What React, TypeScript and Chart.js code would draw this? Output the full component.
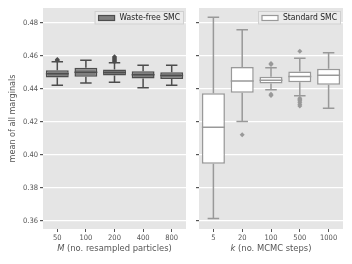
import React, { useEffect, useRef } from 'react';
import { Chart, registerables } from 'chart.js';
Chart.register(...registerables);

// ---------- data ----------
const yTicks = [0.36, 0.38, 0.40, 0.42, 0.44, 0.46, 0.48];

const wfLabels = ['50', '100', '200', '400', '800'];
const wfLo = [0.4422, 0.4436, 0.4440, 0.4406, 0.4422];
const wfQ1 = [0.4469, 0.4473, 0.4481, 0.4462, 0.4460];
const wfMed = [0.4491, 0.4501, 0.4499, 0.4485, 0.4480];
const wfQ3 = [0.4513, 0.4527, 0.4517, 0.4507, 0.4500];
const wfHi = [0.4564, 0.4573, 0.4558, 0.4543, 0.4543];
const wfOut = [[0.4572, 0.4578], [], [0.4564, 0.4570, 0.4576, 0.4582, 0.4588, 0.4594], [], []];

const stLabels = ['5', '20', '100', '500', '1000'];
const stLo = [0.3614, 0.4202, 0.4394, 0.4358, 0.4282];
const stQ1 = [0.3945, 0.4376, 0.4432, 0.4440, 0.4424];
const stMed = [0.4167, 0.4448, 0.4452, 0.4475, 0.4482];
const stQ3 = [0.4373, 0.4533, 0.4473, 0.4505, 0.4521];
const stHi = [0.4834, 0.4758, 0.4527, 0.4585, 0.4618];
const stOut = [[], [0.4121], [0.4547, 0.4553, 0.4367, 0.4360], [0.4628, 0.4343, 0.4335, 0.4327, 0.4318, 0.4306, 0.4296], []];

const FAMILY = "'DejaVu Sans Condensed', 'DejaVu Sans', sans-serif";
const TXT = '#555555';
const BG = '#e5e5e5';

type Spec = {
  labels: string[]; lo: number[]; q1: number[]; med: number[]; q3: number[]; hi: number[]; out: number[][];
  fill: string; line: string; legend: string; titleItalic: string; titleRest: string;
  yLabels: boolean; yAxisWidth: number; padRight: number; width: number;
};

function buildChart(canvas: HTMLCanvasElement, s: Spec) {
  const outPts: { x: string; y: number }[] = [];
  s.out.forEach((arr, i) => arr.forEach(v => outPts.push({ x: s.labels[i], y: v })));

  const plugin = {
    id: 'boxExtras',
    beforeDraw(chart: any) {
      const { ctx, chartArea: a } = chart;
      ctx.save();
      ctx.fillStyle = BG;
      ctx.fillRect(a.left, a.top, a.right - a.left, a.bottom - a.top);
      ctx.restore();
    },
    afterDatasetsDraw(chart: any) {
      const { ctx } = chart;
      const ys = chart.scales.y;
      const meta = chart.getDatasetMeta(0);
      ctx.save();
      ctx.strokeStyle = s.line;
      ctx.lineWidth = 1.5;
      meta.data.forEach((bar: any, i: number) => {
        const x = bar.x;
        const w = bar.width;
        const yq1 = ys.getPixelForValue(s.q1[i]);
        const yq3 = ys.getPixelForValue(s.q3[i]);
        const ylo = ys.getPixelForValue(s.lo[i]);
        const yhi = ys.getPixelForValue(s.hi[i]);
        const ym = ys.getPixelForValue(s.med[i]);
        ctx.beginPath();
        ctx.moveTo(x, yq3); ctx.lineTo(x, yhi);
        ctx.moveTo(x - w / 4, yhi); ctx.lineTo(x + w / 4, yhi);
        ctx.moveTo(x, yq1); ctx.lineTo(x, ylo);
        ctx.moveTo(x - w / 4, ylo); ctx.lineTo(x + w / 4, ylo);
        ctx.moveTo(x - w / 2, ym); ctx.lineTo(x + w / 2, ym);
        ctx.stroke();
      });
      ctx.restore();
    },
    afterDraw(chart: any) {
      const { ctx, chartArea: a } = chart;
      ctx.save();
      // x title
      const fs = 9.3;
      ctx.fillStyle = TXT;
      ctx.textBaseline = 'middle';
      ctx.textAlign = 'left';
      ctx.font = `italic ${fs}px ${FAMILY}`;
      const w1 = ctx.measureText(s.titleItalic).width;
      ctx.font = `${fs}px ${FAMILY}`;
      const w2 = ctx.measureText(s.titleRest).width;
      const x0 = (a.left + a.right) / 2 - (w1 + w2) / 2;
      const ty = 248.5;
      ctx.font = `italic ${fs}px ${FAMILY}`;
      ctx.fillText(s.titleItalic, x0, ty);
      ctx.font = `${fs}px ${FAMILY}`;
      ctx.fillText(s.titleRest, x0 + w1, ty);
      // legend
      const lfs = 8.5;
      ctx.font = `${lfs}px ${FAMILY}`;
      const tw = ctx.measureText(s.legend).width;
      const frameW = 4 + 16 + 5 + tw + 4;
      const fr = a.right - 2;
      const fl = fr - frameW;
      const ft = a.top + 3;
      const fh = 13.5;
      ctx.fillStyle = '#ebebeb';
      ctx.strokeStyle = '#d0d0d0';
      ctx.lineWidth = 1;
      ctx.fillRect(fl, ft, frameW, fh);
      ctx.strokeRect(fl + 0.5, ft + 0.5, frameW - 1, fh - 1);
      ctx.fillStyle = s.fill;
      ctx.strokeStyle = s.line;
      ctx.lineWidth = 1.2;
      ctx.fillRect(fl + 4, ft + 4.5, 16, 5);
      ctx.strokeRect(fl + 4, ft + 4.5, 16, 5);
      ctx.fillStyle = '#222222';
      ctx.textBaseline = 'middle';
      ctx.fillText(s.legend, fl + 25, ft + fh / 2 + 0.5);
      ctx.restore();
    },
  };

  return new Chart(canvas, {
    type: 'bar',
    data: {
      labels: s.labels,
      datasets: [
        {
          type: 'bar',
          data: s.labels.map((_, i) => [s.q1[i], s.q3[i]]) as any,
          backgroundColor: s.fill,
          borderColor: s.line,
          borderWidth: 1.5,
          borderSkipped: false,
          barPercentage: 0.8,
          categoryPercentage: 1,
        },
        {
          type: 'line',
          data: outPts as any,
          showLine: false,
          pointStyle: 'rectRot',
          pointRadius: 2.5,
          pointBackgroundColor: s.line,
          pointBorderColor: s.line,
          pointBorderWidth: 0,
        } as any,
      ],
    },
    options: {
      responsive: false,
      animation: false,
      devicePixelRatio: 1,
      events: [],
      layout: { padding: { top: 8, left: 0, right: s.padRight, bottom: 11 } },
      plugins: { legend: { display: false }, tooltip: { enabled: false } },
      scales: {
        x: {
          type: 'category',
          offset: true,
          border: { display: false },
          grid: { display: true, drawOnChartArea: false, drawTicks: true, tickLength: 3, tickColor: TXT, offset: false },
          ticks: { color: TXT, font: { size: 7.5, family: FAMILY }, padding: 2, maxRotation: 0, autoSkip: false },
          afterFit: (sc: any) => { sc.height = 24; },
        },
        y: {
          type: 'linear',
          min: 0.355,
          max: 0.489,
          border: { display: false },
          grid: { color: '#ffffff', lineWidth: 1.2, drawTicks: true, tickLength: 3, tickColor: TXT },
          afterBuildTicks: (sc: any) => { sc.ticks = yTicks.map(v => ({ value: v })); },
          ticks: {
            color: TXT,
            font: { size: 7.5, family: FAMILY },
            padding: 2,
            callback: (v: any) => (s.yLabels ? Number(v).toFixed(2) : ''),
          },
          title: {
            display: s.yLabels,
            text: 'mean of all marginals',
            color: TXT,
            font: { size: 9, family: FAMILY },
            padding: { top: 7.5, bottom: 0 },
          },
          afterFit: (sc: any) => { sc.width = s.yAxisWidth; },
        },
      },
    },
    plugins: [plugin],
  } as any);
}

export default function App() {
  const leftRef = useRef<HTMLCanvasElement>(null);
  const rightRef = useRef<HTMLCanvasElement>(null);

  useEffect(() => {
    const c1 = buildChart(leftRef.current!, {
      labels: wfLabels, lo: wfLo, q1: wfQ1, med: wfMed, q3: wfQ3, hi: wfHi, out: wfOut,
      fill: '#808080', line: '#4d4d4d', legend: 'Waste-free SMC',
      titleItalic: 'M', titleRest: ' (no. resampled particles)',
      yLabels: true, yAxisWidth: 43, padRight: 4, width: 190,
    });
    const c2 = buildChart(rightRef.current!, {
      labels: stLabels, lo: stLo, q1: stQ1, med: stMed, q3: stQ3, hi: stHi, out: stOut,
      fill: '#ffffff', line: '#999999', legend: 'Standard SMC',
      titleItalic: 'k', titleRest: ' (no. MCMC steps)',
      yLabels: false, yAxisWidth: 9, padRight: 9, width: 162,
    });
    return () => { c1.destroy(); c2.destroy(); };
  }, []);

  return (
    <div style={{ position: 'fixed', left: 0, top: 0, width: 352, height: 264, background: '#ffffff' }}>
      <canvas ref={leftRef} width={190} height={264} style={{ position: 'absolute', left: 0, top: 0, width: 190, height: 264 }} />
      <canvas ref={rightRef} width={162} height={264} style={{ position: 'absolute', left: 190, top: 0, width: 162, height: 264 }} />
    </div>
  );
}
